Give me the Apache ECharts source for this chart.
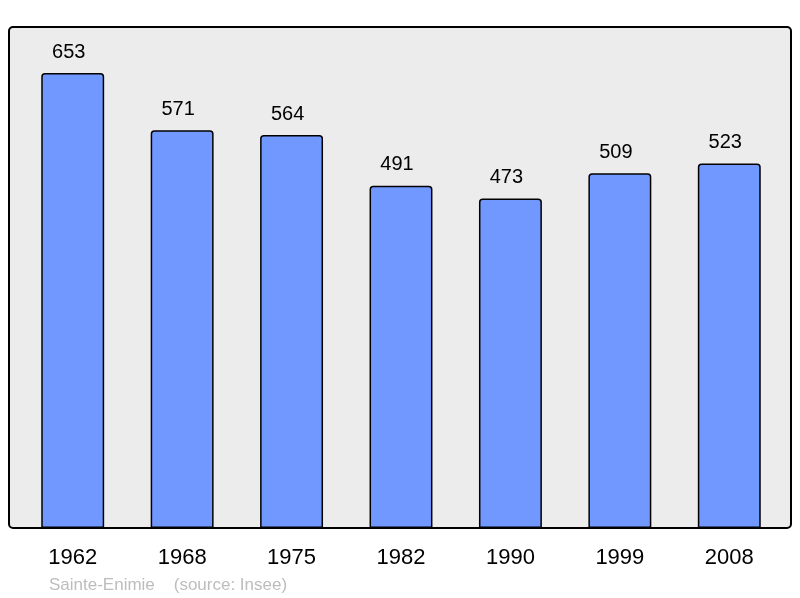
<!DOCTYPE html>
<html><head><meta charset="utf-8">
<script src="https://cdn.jsdelivr.net/npm/echarts@6/dist/echarts.min.js"></script>
<style>html,body{margin:0;padding:0;background:#fff}#c{width:800px;height:598px}</style>
</head><body><div id="c"></div>
<script>
var years = ['1962','1968','1975','1982','1990','1999','2008'];
var population = [653, 571, 564, 491, 473, 509, 523];
var yMax = 719;

var chart = echarts.init(document.getElementById('c'), null, {renderer:'canvas'});
chart.setOption({
  animation: false,
  backgroundColor: '#ffffff',
  graphic: [
    {type:'rect', z:-10, shape:{x:9, y:27, width:782, height:501, r:4},
     style:{fill:'#ececec', stroke:'#000', lineWidth:2}},
    {type:'text', left:49, top:577, style:{text:'Sainte-Enimie    (source: Insee)', fill:'#bdbdbd', font:'17px "Liberation Sans", Arial, sans-serif'}}
  ],
  grid: {left:18, right:16, top:27, bottom:70, containLabel:false},
  xAxis: {
    type:'category', data: years,
    axisLine:{show:false}, axisTick:{show:false},
    axisLabel:{color:'#000', fontSize:22, fontFamily:'"Liberation Sans", Arial, sans-serif', margin:19}
  },
  yAxis: {type:'value', min:0, max:yMax, show:false, splitLine:{show:false}},
  series: [{
    type:'bar', data: population, barWidth:'57.5%',
    itemStyle:{color:'#7198ff', borderColor:'#000', borderWidth:1.5, borderRadius:[3,3,0,0]},
    label:{show:true, position:'top', distance:11, offset:[-4,0], color:'#000', fontSize:20, fontFamily:'"Liberation Sans", Arial, sans-serif'}
  }]
});
</script></body></html>
